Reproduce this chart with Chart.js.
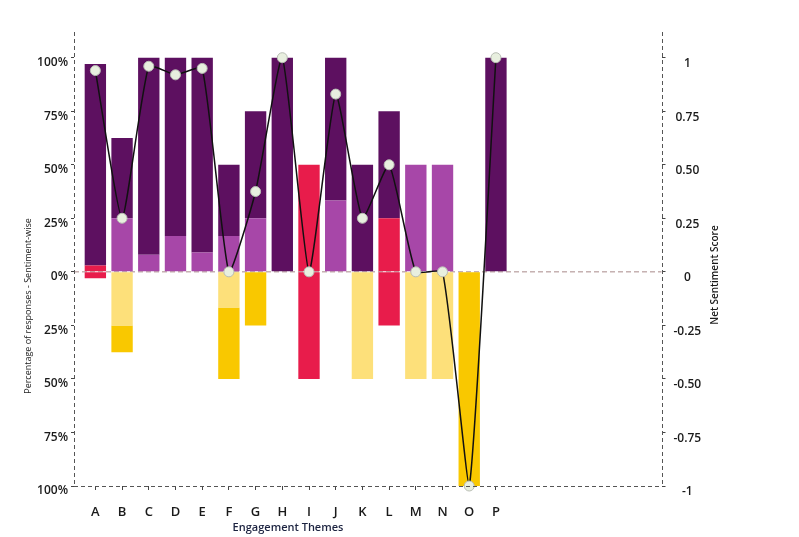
<!DOCTYPE html>
<html><head><meta charset="utf-8">
<script src="https://cdn.jsdelivr.net/npm/chart.js@4.4.0/dist/chart.umd.min.js"></script>
<style>html,body{margin:0;padding:0;background:#fff;}#wrap{width:799px;height:537px;position:relative;}</style>
</head><body><div id="wrap"><canvas id="c" width="799" height="537"></canvas></div>
<script>
// ---- data (percent of responses per theme) ----
const categories = ['A','B','C','D','E','F','G','H','I','J','K','L','M','N','O','P'];
const strongPositive = [94, 37.5, 92, 83.3, 91, 33.3, 50, 100, 0, 66.7, 50, 50, 0, 0, 0, 100];
const mildPositive   = [0, 25, 8, 16.7, 9, 16.7, 25, 0, 0, 33.3, 0, 0, 50, 50, 0, 0];
const neutral        = [6, 0, 0, 0, 0, 0, 0, 0, 100, 0, 0, 50, 0, 0, 0, 0];
const mildNegative   = [0, 25, 0, 0, 0, 16.7, 0, 0, 0, 0, 50, 0, 50, 50, 0, 0];
const strongNegative = [0, 12.5, 0, 0, 0, 33.3, 25, 0, 0, 0, 0, 0, 0, 0, 100, 0];
const netScore       = [0.94, 0.25, 0.96, 0.92, 0.95, 0, 0.375, 1, 0, 0.83, 0.25, 0.5, 0, 0, -1, 1];
const leftTickValues  = [-100, -75, -50, -25, 0, 25, 50, 75, 100];
const leftTickLabels  = ['100%','75%','50%','25%','0%','25%','50%','75%','100%'];
const rightTickValues = [-1, -0.75, -0.5, -0.25, 0, 0.25, 0.5, 0.75, 1];
const rightTickLabels = ['-1','-0.75','-0.50','-0.25','0','0.25','0.50','0.75','1'];

const pts = arr => arr.map((v, i) => ({x: i, y: v}));
const FONT = '"Open Sans", "DejaVu Sans", sans-serif';

const decor = {
  id: 'decor',
  beforeDatasetsDraw(chart) {
    const {ctx, chartArea: a, scales: {y}} = chart;
    const y0 = y.getPixelForValue(0);
    ctx.save();
    ctx.strokeStyle = '#a88a8a';
    ctx.lineWidth = 1;
    ctx.setLineDash([5, 3]);
    ctx.beginPath(); ctx.moveTo(a.left, y0); ctx.lineTo(a.right, y0); ctx.stroke();
    ctx.restore();
  },
  afterDraw(chart) {
    const {ctx, chartArea: a} = chart;
    // dashed axis lines
    ctx.save();
    ctx.strokeStyle = '#555';
    ctx.lineWidth = 1;
    ctx.setLineDash([4, 3]);
    ctx.beginPath();
    ctx.moveTo(Math.round(a.left) + 0.5, a.top); ctx.lineTo(Math.round(a.left) + 0.5, a.bottom);
    ctx.moveTo(Math.round(a.right) + 0.5, a.top); ctx.lineTo(Math.round(a.right) + 0.5, a.bottom);
    ctx.moveTo(a.left, Math.round(a.bottom) + 0.5); ctx.lineTo(a.right, Math.round(a.bottom) + 0.5);
    ctx.stroke();
    ctx.restore();

    ctx.save();
    ctx.fillStyle = '#1a1a1a';
    ctx.textAlign = 'center'; ctx.textBaseline = 'middle';
    ctx.translate(28, 306); ctx.rotate(-Math.PI / 2);
    ctx.font = '9px ' + FONT;
    ctx.fillText('Percentage of responses - Sentiment-wise', 0, 0);
    ctx.restore();
    ctx.save();
    ctx.fillStyle = '#1a1a1a';
    ctx.textAlign = 'center'; ctx.textBaseline = 'middle';
    ctx.translate(715, 275); ctx.rotate(-Math.PI / 2);
    ctx.font = '600 10px ' + FONT;
    ctx.fillText('Net Sentiment Score', 0, 0);
    ctx.restore();
    ctx.save();
    ctx.fillStyle = '#1c2340';
    ctx.textAlign = 'center'; ctx.textBaseline = 'middle';
    ctx.font = '600 11px ' + FONT;
    ctx.fillText('Engagement Themes', 288, 528);
    ctx.restore();
  }
};

const barDs = (label, data, color) => ({
  type: 'bar', label, data: pts(data), backgroundColor: color, borderWidth: 0,
  yAxisID: 'y', xAxisID: 'x', stack: 's', order: 2,
  barPercentage: 0.8, categoryPercentage: 1
});

new Chart(document.getElementById('c'), {
  type: 'bar',
  data: {
    datasets: [
      {
        type: 'line', label: 'Net Sentiment Score', data: pts(netScore), yAxisID: 'y2', xAxisID: 'x',
        borderColor: '#111', borderWidth: 1.5, tension: 0.15, order: 0, clip: false,
        pointRadius: 5, pointBackgroundColor: '#e8efdf', pointBorderColor: '#b8bdb4', pointBorderWidth: 1
      },
      barDs('Neutral', neutral.map(v => v / 2), '#e81c4b'),
      barDs('Mildly positive', mildPositive, '#a747a8'),
      barDs('Strongly positive', strongPositive, '#5d1060'),
      barDs('Neutral ', neutral.map(v => -v / 2), '#e81c4b'),
      barDs('Mildly negative', mildNegative.map(v => -v), '#fde07a'),
      barDs('Strongly negative', strongNegative.map(v => -v), '#f9c800')
    ]
  },
  options: {
    responsive: false, animation: false,
    layout: {padding: {top: 32, left: 0, right: 0, bottom: 0}},
    plugins: {legend: {display: false}, tooltip: {enabled: false}},
    scales: {
      x: {
        type: 'linear', min: -0.8, max: 21.2, stacked: true, offset: false,
        afterBuildTicks: s => { s.ticks = categories.map((c, i) => ({value: i})); },
        afterFit: s => { s.height = 51; s.paddingLeft = 0; s.paddingRight = 0; },
        ticks: {callback: v => categories[v], autoSkip: false, maxRotation: 0, padding: 14, color: '#1a1a1a',
                font: {family: FONT, size: 13, weight: '600'}},
        grid: {drawOnChartArea: false, offset: false, tickLength: 4, color: '#444'},
        border: {display: false}
      },
      y: {
        position: 'left', min: -100, max: 112, stacked: true,
        afterBuildTicks: s => { s.ticks = leftTickValues.map(v => ({value: v})); },
        afterFit: s => { s.width = 74; },
        ticks: {callback: (v, i) => leftTickLabels[i], labelOffset: 5, padding: 3, color: '#1a1a1a',
                font: {family: FONT, size: 12, weight: '600'}},
        grid: {drawOnChartArea: false, tickLength: 3, color: '#444'},
        border: {display: false}
      },
      y2: {
        position: 'right', min: -1, max: 1.12,
        afterBuildTicks: s => { s.ticks = rightTickValues.map(v => ({value: v})); },
        afterFit: s => { s.width = 137.5; },
        ticks: {callback: (v, i) => rightTickLabels[i], labelOffset: 6, padding: 8, crossAlign: 'center', color: '#1a1a1a',
                font: {family: FONT, size: 12, weight: '600'}},
        grid: {drawOnChartArea: false, tickLength: 4, color: '#444'},
        border: {display: false}
      }
    }
  },
  plugins: [decor]
});
</script></body></html>
